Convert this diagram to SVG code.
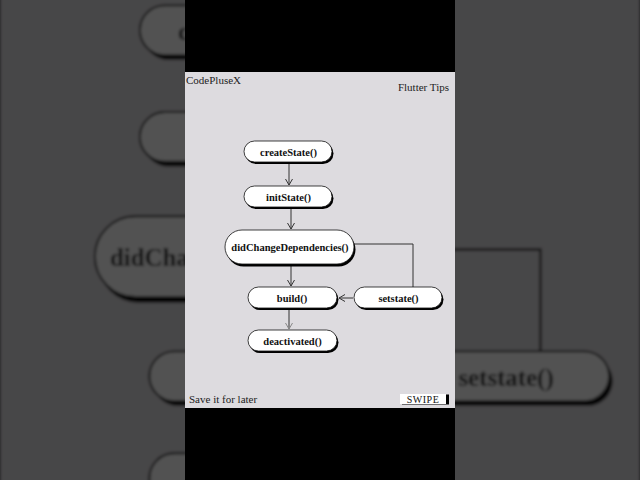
<svg xmlns="http://www.w3.org/2000/svg" xmlns:xlink="http://www.w3.org/1999/xlink" width="640" height="480" viewBox="0 0 640 480">
<style>
.shadow{fill:#000}
.box{fill:#fff;stroke:#111;stroke-width:0.8}
.lbl{font-family:"Liberation Serif","DejaVu Serif",serif;font-weight:bold;font-size:10.5px;fill:#111;text-anchor:middle}
.hdr{font-family:"Liberation Serif","DejaVu Serif",serif;font-size:11px;fill:#222}
.conn{fill:none;stroke:#333;stroke-width:1}
</style>
<defs>
<marker id="arr" viewBox="0 0 8 8" refX="7" refY="4" markerWidth="8" markerHeight="8" markerUnits="userSpaceOnUse" orient="auto">
<path d="M1,0.5 L7,4 L1,7.5" fill="none" stroke="#333" stroke-width="1"/>
</marker>
<marker id="arrg" viewBox="0 0 8 8" refX="7" refY="4" markerWidth="8" markerHeight="8" markerUnits="userSpaceOnUse" orient="auto">
<path d="M1,0.5 L7,4 L1,7.5" fill="none" stroke="#888" stroke-width="1"/>
</marker>
<filter id="soft"><feGaussianBlur stdDeviation="0.7"/></filter>
</defs>
<rect width="640" height="480" fill="#454446"/>
<use xlink:href="#frame" href="#frame" transform="translate(320 240) scale(2.37) translate(-320 -240)" filter="url(#soft)"/>
<rect width="640" height="480" fill="#000" opacity="0.68"/>
<g id="frame">
<rect x="185" y="0" width="270" height="480" fill="#000"/>
<rect x="185" y="72" width="270" height="336" fill="#dddbdf"/>
<text class="hdr" x="186" y="84">CodePluseX</text>
<text class="hdr" x="449" y="91" text-anchor="end">Flutter Tips</text>
<text class="hdr" x="189" y="403">Save it for later</text>
<g id="swipe">
<rect x="402" y="394.5" width="47" height="10" fill="#000"/>
<rect x="400" y="394" width="46" height="10" fill="#fff"/>
<text x="423" y="403" font-family="Liberation Serif, DejaVu Serif, serif" font-size="10" fill="#111" text-anchor="middle" letter-spacing="0.5">SWIPE</text>
</g>
<g id="connectors">
<path class="conn" d="M289,164 L289,185" marker-end="url(#arr)"/>
<path class="conn" d="M291,209 L291,229" marker-end="url(#arr)"/>
<path class="conn" d="M291,266 L291,286" marker-end="url(#arr)"/>
<path class="conn" d="M289,310 L289,329" stroke="#888" marker-end="url(#arrg)"/>
<path class="conn" d="M354,244 H413 V287"/>
<path class="conn" d="M353,298 H339" marker-end="url(#arr)"/>
</g>
<g id="createState">
<rect class="shadow" x="245.5" y="143" width="88" height="21" rx="10.5"/>
<rect class="box" x="244" y="141" width="88" height="21" rx="10.5"/>
<text class="lbl" x="288.5" y="155.5">createState()</text>
</g>
<g id="initState">
<rect class="shadow" x="245.5" y="188" width="88" height="21" rx="10.5"/>
<rect class="box" x="244" y="186" width="88" height="21" rx="10.5"/>
<text class="lbl" x="288.5" y="200.5">initState()</text>
</g>
<g id="didChangeDependencies">
<rect class="shadow" x="226.5" y="232.5" width="129" height="34" rx="17"/>
<rect class="box" x="225" y="230" width="129" height="34" rx="17"/>
<text class="lbl" x="290" y="251">didChangeDependencies()</text>
</g>
<g id="build">
<rect class="shadow" x="249.5" y="289" width="89" height="21" rx="10.5"/>
<rect class="box" x="248" y="287" width="89" height="21" rx="10.5"/>
<text class="lbl" x="292" y="301.5">build()</text>
</g>
<g id="setstate">
<rect class="shadow" x="355.5" y="289" width="88" height="21" rx="10.5"/>
<rect class="box" x="354" y="287" width="88" height="21" rx="10.5"/>
<text class="lbl" x="398.5" y="301.5">setstate()</text>
</g>
<g id="deactivated">
<rect class="shadow" x="249.5" y="332" width="89" height="21" rx="10.5"/>
<rect class="box" x="248" y="330" width="89" height="21" rx="10.5"/>
<text class="lbl" x="292.5" y="344.5">deactivated()</text>
</g>
</g>
</svg>
